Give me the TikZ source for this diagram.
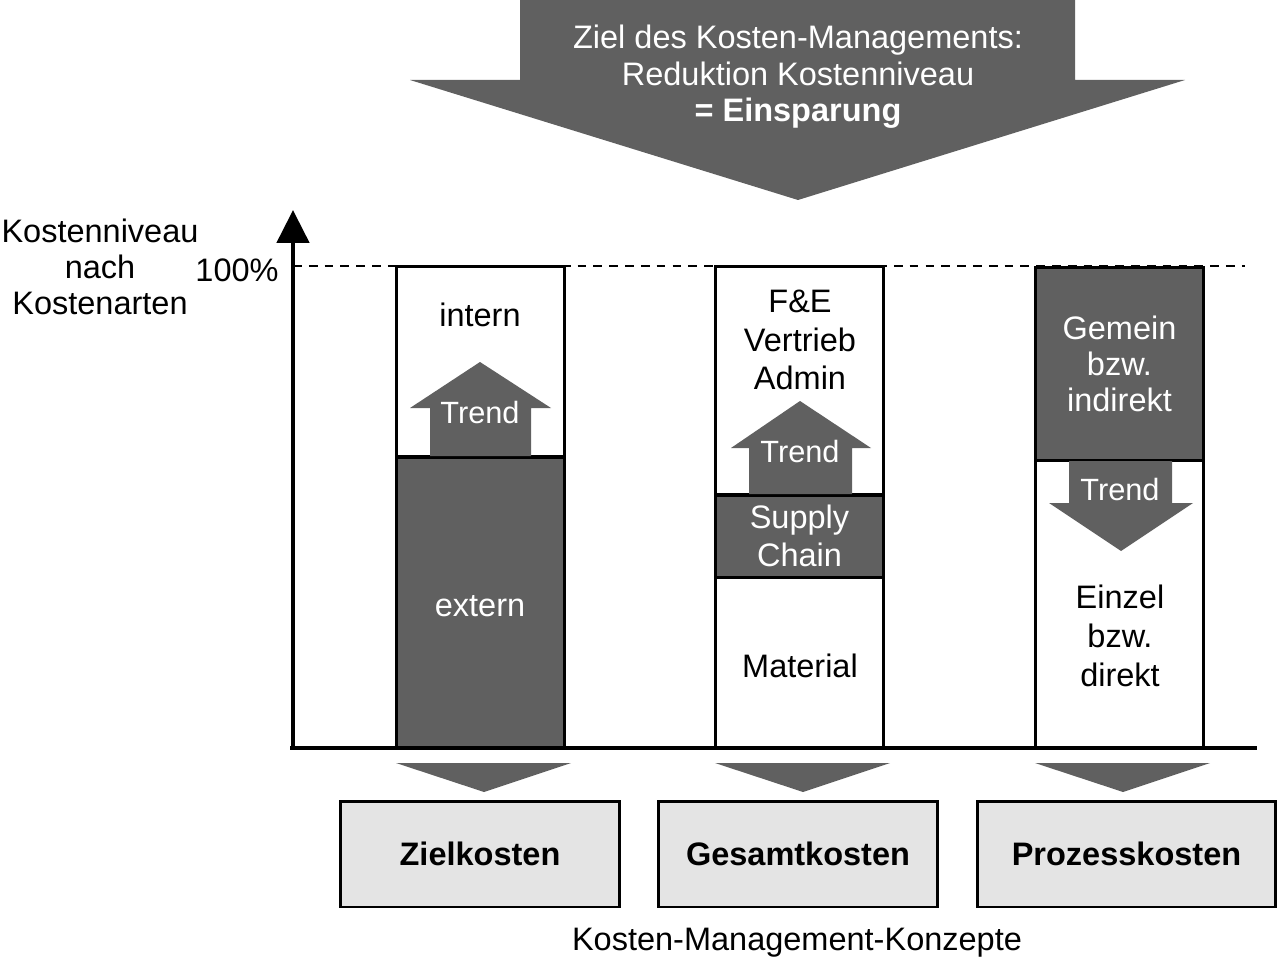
\documentclass[tikz,border=0pt]{standalone}
\usepackage{fontspec}
\setmainfont{Liberation Sans}
\usetikzlibrary{arrows.meta,positioning}
\definecolor{dunkel}{HTML}{606060}
\definecolor{hell}{HTML}{E4E4E4}

\begin{document}
\begin{tikzpicture}[x=0.02cm,y=-0.02cm,
    every node/.style={font=\fontsize{18.5}{22}\selectfont, align=center},
    eng/.style={font=\fontsize{18.5}{20.7}\selectfont},
    seg/.style={draw, line width=1.7pt, minimum width=3.38cm, inner sep=0pt},
    dark/.style={seg, fill=dunkel, text=white},
    light/.style={seg, fill=white},
    konzept/.style={draw, line width=1.7pt, fill=hell, minimum height=2.12cm,
      font=\fontsize{18.5}{22}\selectfont\bfseries},
    trend/.style={text=white, font=\fontsize{17.5}{21}\selectfont}]
  \useasboundingbox (0,0) rectangle (1279,963);

  % Ziel-Pfeil oben
  \fill[dunkel] (520,0) -- (1075,0) -- (1075,80) -- (1185,80) -- (798,200)
    -- (410,80) -- (520,80) -- cycle;
  \node[eng, text=white] (ziel) at (798,77)
    {Ziel des Kosten-Managements:\\Reduktion Kostenniveau\\\textbf{= Einsparung}};

  % Achsen
  \coordinate (o) at (293,748);
  \coordinate (yspitze) at (293,210);
  \coordinate (xende) at (1257,748);
  \coordinate (h0) at (293,266);
  \coordinate (h1) at (1245,266);
  \draw[line width=1pt, dash pattern=on 5pt off 4pt] (h0) -- (h1);
  \draw[line width=2.8pt, -{Triangle[width=0.64cm,length=0.66cm]}] (o) -- (yspitze);
  \draw[line width=2.8pt] ([xshift=-0.06cm]o) -- (xende);
  \node[eng] (niveau) at (100,267) {Kostenniveau\\nach\\Kostenarten};
  \node (hundert) at (237,270) {100\%};

  % Zielkosten
  \node[light, minimum height=3.82cm] (z1) at (480.5,361.5) {};
  \node[dark, minimum height=5.82cm] (z2) at (480.5,602.5) {};
  \fill[dunkel] (430,456) -- (430,408) -- (410,408) -- (480,362) -- (551,408)
    -- (531,408) -- (531,456) -- cycle;
  \node (intern) at (480,315) {intern};
  \node[text=white] (extern) at (480,606) {extern};
  \node[trend] (trend1) at (480,413) {Trend};

  % Gesamtkosten
  \node[light, minimum height=4.58cm] (g1) at (799.5,380.5) {};
  \node[dark, minimum height=1.64cm] (g2) at (799.5,536) {Supply\\Chain};
  \node[light, minimum height=3.42cm] (g3) at (799.5,662.5) {};
  \fill[dunkel] (749,494) -- (749,448) -- (731,448) -- (800,401) -- (871,448)
    -- (852,448) -- (852,494) -- cycle;
  \node (fe) at (800,340) {F\&E\\Vertrieb\\Admin};
  \node[trend] (trend2) at (800,452) {Trend};
  \node (material) at (800,666) {Material};

  % Prozesskosten
  \node[dark, eng, minimum height=3.88cm] (p1) at (1119.5,364) {Gemein\\bzw.\\indirekt};
  \node[light, minimum height=5.76cm] (p2) at (1119.5,604) {};
  \fill[dunkel] (1069,461) -- (1172,461) -- (1172,503) -- (1193,503) -- (1121,551)
    -- (1049,503) -- (1069,503) -- cycle;
  \node[trend] (trend3) at (1120,490) {Trend};
  \node (einzel) at (1120,636) {Einzel\\bzw.\\direkt};

  % Konzepte
  \foreach \x in {396,715,1035}
    \fill[dunkel] (\x,763) -- (\x+175,763) -- (\x+88,792) -- cycle;
  \node[konzept, minimum width=5.6cm] (zielk) at (480,854) {Zielkosten};
  \node[konzept, minimum width=5.6cm] (gesamtk) at (798,854) {Gesamtkosten};
  \node[konzept, minimum width=5.98cm] (prozessk) at (1126.5,854) {Prozesskosten};
  \node (konzepte) at (797,943) {Kosten-Management-Konzepte};
\end{tikzpicture}
\end{document}
